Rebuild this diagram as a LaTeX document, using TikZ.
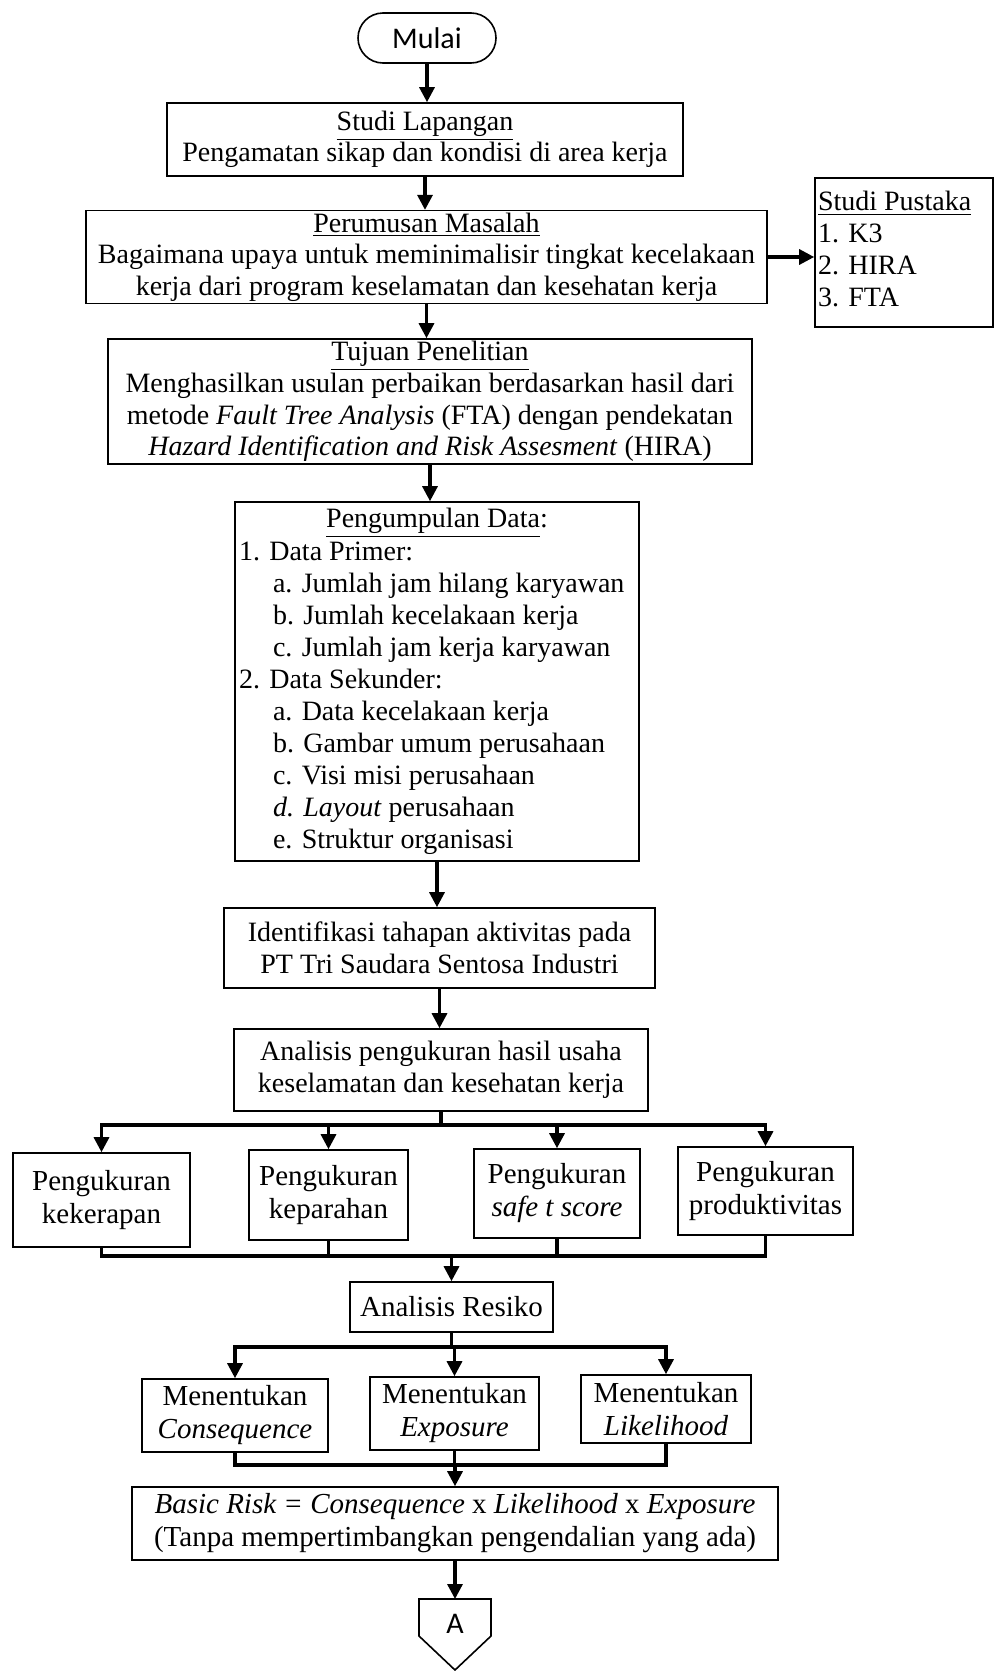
\documentclass[tikz,border=0pt]{standalone}
\usepackage{fontspec}
\setmainfont{Liberation Serif}
\newfontfamily\sansf{Carlito}
\usetikzlibrary{arrows.meta}
\newcommand\bodyf{\fontsize{14}{15.8}\selectfont}
\newcommand\lowf{\fontsize{14.5}{16.5}\selectfont}
\begin{document}
\begin{tikzpicture}[x=0.5pt,y=-0.5pt,
  box/.style={draw, line width=0.8pt, inner sep=1pt, align=center, font=\bodyf},
  lbox/.style={box, font=\lowf},
  ln/.style={line width=1.6pt},
  arr/.style={line width=1.6pt, -{Triangle[length=7.5pt,width=7.5pt]}}]
\fill[white] (0,0) rectangle (996,1671);
\useasboundingbox (0,0) rectangle (996,1671);

% main column
\node[box, minimum width=69pt, minimum height=25pt, rounded corners=12.5pt, font=\sansf\fontsize{15}{17}\selectfont] (mulai) at (427,38) {Mulai};
\node[box, minimum width=258pt, minimum height=36.5pt] (studi) at (425,139.5)
  {\underline{Studi Lapangan}\\Pengamatan sikap dan kondisi di area kerja};
\node[box, minimum width=340.5pt, minimum height=45pt] (rumus) at (426.5,257)
  {\underline{Perumusan Masalah}\\Bagaimana upaya untuk meminimalisir tingkat kecelakaan\\kerja dari program keselamatan dan kesehatan kerja};
\node[box, minimum width=89pt, minimum height=74.5pt, inner sep=0.5pt, font=\fontsize{14}{16}\selectfont] (pustaka) at (904,252.5)
  {\begin{tabular}{@{}p{86pt}@{}}\underline{Studi Pustaka}\\1. K3\\2. HIRA\\3. FTA\end{tabular}};
\node[box, minimum width=322pt, minimum height=62.5pt] (tujuan) at (430,401.5)
  {\underline{Tujuan Penelitian}\\Menghasilkan usulan perbaikan berdasarkan hasil dari\\metode \textit{Fault Tree Analysis} (FTA) dengan pendekatan\\\textit{Hazard Identification and Risk Assesment} (HIRA)};
\node[box, minimum width=202pt, minimum height=179.5pt, inner sep=1pt, font=\fontsize{14}{16}\selectfont] (kumpul) at (437,681.5)
  {\begin{tabular}{@{}p{198pt}@{}}
   \multicolumn{1}{@{}c@{}}{\underline{Pengumpulan Data}:}\\
   1. Data Primer:\\
   \hspace*{17pt}a. Jumlah jam hilang karyawan\\
   \hspace*{17pt}b. Jumlah kecelakaan kerja\\
   \hspace*{17pt}c. Jumlah jam kerja karyawan\\
   2. Data Sekunder:\\
   \hspace*{17pt}a. Data kecelakaan kerja\\
   \hspace*{17pt}b. Gambar umum perusahaan\\
   \hspace*{17pt}c. Visi misi perusahaan\\
   \hspace*{17pt}\textit{d. Layout} perusahaan\\
   \hspace*{17pt}e. Struktur organisasi
   \end{tabular}};
\node[box, minimum width=215.5pt, minimum height=40pt] (ident) at (439.5,948)
  {Identifikasi tahapan aktivitas pada\\PT Tri Saudara Sentosa Industri};
\node[box, minimum width=207pt, minimum height=41pt] (anp) at (441,1070)
  {Analisis pengukuran hasil usaha\\keselamatan dan kesehatan kerja};

% pengukuran row
\node[lbox, minimum width=88.5pt, minimum height=47pt] (p1) at (101.5,1200) {Pengukuran\\kekerapan};
\node[lbox, minimum width=79.5pt, minimum height=45pt] (p2) at (328.5,1195) {Pengukuran\\keparahan};
\node[lbox, minimum width=83pt, minimum height=44.5pt] (p3) at (557,1193.5) {Pengukuran\\\textit{safe t score}};
\node[lbox, minimum width=87.5pt, minimum height=44pt] (p4) at (765.5,1191) {Pengukuran\\produktivitas};

\node[lbox, minimum width=101.5pt, minimum height=25pt] (resiko) at (451.5,1307) {Analisis Resiko};

% menentukan row
\node[lbox, minimum width=93pt, minimum height=36.5pt] (m1) at (235,1415.5) {Menentukan\\\textit{Consequence}};
\node[lbox, minimum width=84.5pt, minimum height=36.5pt] (m2) at (454.5,1413.5) {Menentukan\\\textit{Exposure}};
\node[lbox, minimum width=85pt, minimum height=34pt] (m3) at (666,1409) {Menentukan\\\textit{Likelihood}};

\node[lbox, minimum width=323pt, minimum height=36.5pt] (basic) at (455,1523.5)
  {\textit{Basic Risk = Consequence} x \textit{Likelihood} x \textit{Exposure}\\(Tanpa mempertimbangkan pengendalian yang ada)};

% off-page connector A
\coordinate (atop) at (455,1599);
\draw[line width=0.8pt] (419,1599) -- (491,1599) -- (491,1636) -- (455,1670) -- (419,1636) -- cycle;
\node[font=\sansf\fontsize{15}{17}\selectfont, inner sep=0pt] (aa) at (455,1624) {A};

% connectors main column
\draw[arr] (mulai.south) -- (mulai.south |- studi.north);
\draw[arr] (studi.south) -- (studi.south |- rumus.north);
\draw[arr] (rumus.east) -- (rumus.east -| pustaka.west);
\draw[arr] (rumus.south) -- (rumus.south |- tujuan.north);
\draw[arr] (tujuan.south) -- (tujuan.south |- kumpul.north);
\draw[arr] (kumpul.south) -- (kumpul.south |- ident.north);
\draw[arr] (ident.south) -- (ident.south |- anp.north);

% branch 1
\coordinate (b1) at (441,1125);
\draw[ln] (anp.south) -- (b1);
\draw[arr] (b1) -- (p1.north |- b1) -- (p1.north);
\draw[arr] (p2.north |- b1) -- (p2.north);
\draw[arr] (p3.north |- b1) -- (p3.north);
\draw[arr] (b1) -- (p4.north |- b1) -- (p4.north);

% merge 1
\coordinate (j1) at (451.5,1256);
\draw[ln] (p1.south) -- (p1.south |- j1) -- (p4.south |- j1) -- (p4.south);
\draw[ln] (p2.south) -- (p2.south |- j1);
\draw[ln] (p3.south) -- (p3.south |- j1);
\draw[arr] (j1) -- (resiko.north);

% branch 2
\coordinate (b2) at (451.5,1347);
\draw[ln] (resiko.south) -- (b2);
\draw[arr] (b2) -- (m1.north |- b2) -- (m1.north);
\draw[arr] (m2.north |- b2) -- (m2.north);
\draw[arr] (b2) -- (m3.north |- b2) -- (m3.north);

% merge 2
\coordinate (j2) at (455,1465);
\draw[ln] (m1.south) -- (m1.south |- j2) -- (m3.south |- j2) -- (m3.south);
\draw[ln] (m2.south) -- (m2.south |- j2);
\draw[arr] (j2) -- (basic.north);

\draw[arr] (basic.south) -- (atop);
\end{tikzpicture}
\end{document}
